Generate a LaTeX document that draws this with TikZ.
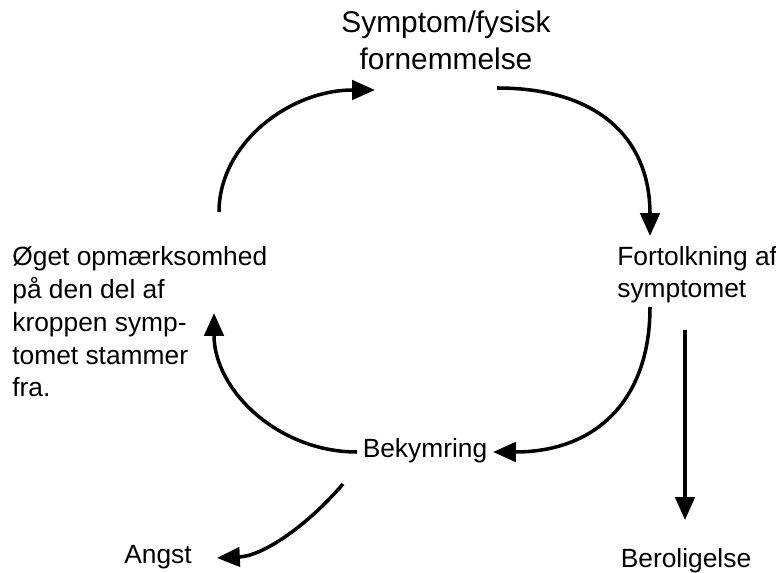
\documentclass[tikz,border=0pt]{standalone}
\usepackage{fontspec}
\setmainfont{Liberation Sans}
\usetikzlibrary{arrows.meta}

\tikzset{
  txt/.style={inner sep=0pt, font=\fontsize{15}{18.7}\selectfont},
  bigtxt/.style={inner sep=0pt, font=\fontsize{17}{21.5}\selectfont},
  flow/.style={line width=2pt, -{Triangle[length=13pt,width=11pt]}}
}

\begin{document}
\begin{tikzpicture}[x=0.02cm, y=-0.02cm]
\useasboundingbox (0,0) rectangle (776,573);

\coordinate (A1) at (219,212);
\coordinate (A2) at (375,90);
\coordinate (B1) at (497,88);
\coordinate (B2) at (650,236);
\coordinate (C1) at (650,307);
\coordinate (C2) at (493,452);
\coordinate (D1) at (357,452);
\coordinate (D2) at (214,313);
\coordinate (E1) at (343,484);
\coordinate (E2) at (217,558);
\coordinate (F1) at (685,330);
\coordinate (F2) at (685,520);

\node[bigtxt, align=center, anchor=base] (symp) at (446,70) {Symptom/fysisk\\fornemmelse};
\node[txt, align=left, anchor=base west] (fort) at (617,298) {Fortolkning af\\symptomet};
\node[txt, align=left, anchor=base west] (opm) at (12,397) {Øget opmærksomhed\\på den del af\\kroppen symp-\\tomet stammer\\fra.};
\node[txt, anchor=base] (bek) at (425,457) {Bekymring};
\node[txt, anchor=base] (angst) at (158,563) {Angst};
\node[txt, anchor=base] (berol) at (686,567) {Beroligelse};

\draw[flow] (A1) .. controls (219,144) and (289,90) .. (A2);
\draw[flow] (B1) .. controls (600,88) and (650,140) .. (B2);
\draw[flow] (C1) .. controls (650,401) and (595,452) .. (C2);
\draw[flow] (D1) .. controls (278,452) and (214,390) .. (D2);
\draw[flow] (E1) .. controls (305,528) and (262,556) .. (E2);
\draw[flow] (F1) -- (F2);
\end{tikzpicture}
\end{document}
